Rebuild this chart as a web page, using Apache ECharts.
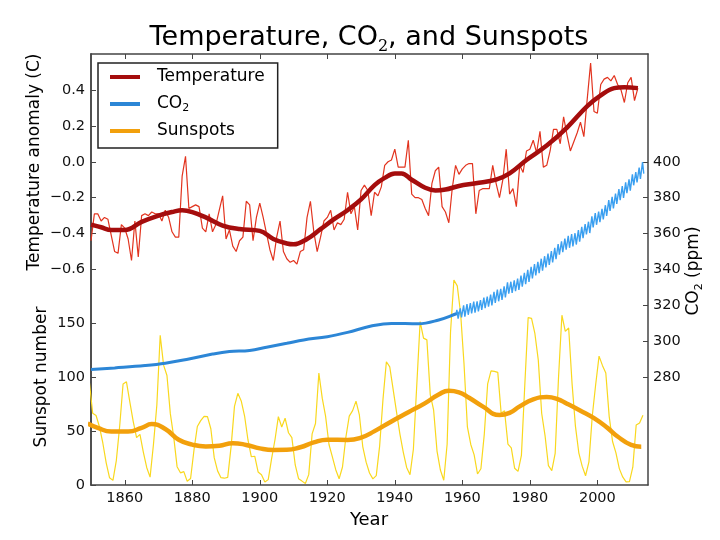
<!DOCTYPE html>
<html><head><meta charset="utf-8">
<script src="https://cdn.jsdelivr.net/npm/echarts@6/dist/echarts.min.js"></script>
<style>html,body{margin:0;padding:0;background:#fff}#c{width:720px;height:540px}</style>
</head><body><div id="c"></div>
<script>
// ---------------- data ----------------
const tempStartYear = 1850;
const tempAnnual = [
 -0.44,-0.29,-0.29,-0.33,-0.31,-0.32,-0.41,-0.50,-0.51,-0.35,
 -0.37,-0.43,-0.55,-0.33,-0.53,-0.30,-0.29,-0.30,-0.28,-0.29,
 -0.29,-0.33,-0.27,-0.31,-0.39,-0.42,-0.42,-0.08,0.03,-0.26,
 -0.25,-0.24,-0.25,-0.37,-0.39,-0.29,-0.39,-0.35,-0.27,-0.19,
 -0.43,-0.38,-0.47,-0.50,-0.44,-0.42,-0.22,-0.24,-0.44,-0.31,
 -0.23,-0.31,-0.40,-0.49,-0.55,-0.42,-0.33,-0.50,-0.54,-0.56,
 -0.55,-0.57,-0.50,-0.49,-0.31,-0.22,-0.39,-0.50,-0.42,-0.33,
 -0.31,-0.27,-0.38,-0.34,-0.35,-0.32,-0.17,-0.29,-0.25,-0.38,
 -0.16,-0.13,-0.16,-0.30,-0.17,-0.19,-0.14,-0.02,0.00,0.01,
 0.07,-0.03,-0.03,-0.03,0.12,-0.18,-0.20,-0.20,-0.21,-0.26,
 -0.30,-0.12,-0.05,-0.03,-0.25,-0.28,-0.34,-0.15,-0.02,-0.07,
 -0.04,-0.02,-0.01,-0.01,-0.29,-0.16,-0.15,-0.15,-0.15,-0.02,
 -0.12,-0.20,-0.10,0.07,-0.18,-0.15,-0.25,-0.02,-0.06,0.06,
 0.07,0.12,0.05,0.17,-0.03,-0.02,0.06,0.18,0.18,0.10,
 0.25,0.15,0.06,0.11,0.16,0.22,0.14,0.35,0.55,0.28,
 0.27,0.43,0.46,0.47,0.45,0.48,0.43,0.40,0.33,0.44,
 0.47,0.34,0.41
];
const tempSmooth = [
 [1850,-0.35],[1853,-0.365],[1856,-0.38],[1860,-0.38],[1865,-0.335],[1870,-0.30],
 [1874,-0.28],[1877,-0.27],[1880,-0.28],[1884,-0.31],[1889,-0.355],[1894,-0.375],
 [1900,-0.385],[1904,-0.43],[1908,-0.455],[1910,-0.46],[1914,-0.43],[1918,-0.375],
 [1922,-0.32],[1926,-0.27],[1930,-0.21],[1934,-0.13],[1937,-0.09],[1940,-0.065],
 [1942,-0.065],[1945,-0.10],[1949,-0.145],[1952,-0.16],[1955,-0.155],[1959,-0.135],
 [1964,-0.12],[1970,-0.10],[1974,-0.065],[1979,0.01],[1985,0.09],[1991,0.19],
 [1997,0.31],[2001,0.37],[2005,0.41],[2008,0.415],[2012,0.41]
];
const co2Smooth = [
 [1850,284.3],[1857,285.2],[1866,286.5],[1872,287.8],[1879,290.2],[1886,292.9],
 [1891,294.3],[1897,294.9],[1902,296.7],[1908,298.9],[1913,300.8],[1920,302.6],
 [1926,305.0],[1933,308.5],[1939,310.0],[1947,309.8],[1953,311.9],[1958,315.2],[1959,315.9]
];
const co2Years = [];
for (let y = 1958; y <= 2013; y++) co2Years.push(y);
const co2SpringMax = [
 317.5,318.3,320.0,320.7,321.3,322.1,322.3,322.9,324.3,324.9,
 326.0,327.6,328.8,329.2,330.6,332.8,333.2,334.0,334.9,336.6,
 338.2,339.8,341.5,343.0,344.3,346.0,347.4,348.9,350.3,352.0,
 354.2,355.7,357.2,358.8,359.7,360.2,362.0,363.8,365.3,366.6,
 369.6,371.4,372.2,373.8,375.8,378.6,380.5,382.3,384.8,386.5,
 388.5,390.2,393.0,394.3,396.8,399.8
];
const co2AutumnMin = [
 312.6,313.3,313.8,314.8,315.6,316.0,316.7,317.5,318.5,319.3,
 320.0,321.4,322.3,323.1,324.5,326.5,327.0,327.9,328.6,330.5,
 331.8,333.1,335.0,336.7,338.0,339.4,341.2,342.6,343.9,345.7,
 348.3,349.7,351.1,352.1,352.8,353.9,355.5,357.5,359.5,360.3,
 363.5,364.9,366.4,367.9,369.8,372.6,374.0,376.5,378.6,379.9,
 382.5,383.9,386.9,388.5,390.4,393.4
];
const sunspotStartYear = 1849;
const sunspotAnnual = [
 95.8,
 66.5,64.5,54.1,39.0,20.6,6.7,4.3,22.7,54.8,93.8,
 95.8,77.2,59.1,44.0,47.0,30.5,16.3,7.3,37.6,74.0,
 139.0,111.2,101.6,66.2,44.7,17.0,11.3,12.4,3.4,6.0,
 32.3,54.3,59.7,63.7,63.5,52.2,25.4,13.1,6.8,6.3,
 7.1,35.6,73.0,85.1,78.0,64.0,41.8,26.2,26.7,12.1,
 9.5,2.7,5.0,24.4,42.0,63.5,53.8,62.0,48.5,43.9,
 18.6,5.7,3.6,1.4,9.6,47.4,57.1,103.9,80.6,63.6,
 37.6,26.1,14.2,5.8,16.7,44.3,63.9,69.0,77.8,65.0,
 35.7,21.2,11.1,5.7,8.7,36.1,79.7,114.4,109.6,88.8,
 67.8,47.5,30.6,16.3,9.6,33.2,92.6,151.6,136.3,134.7,
 83.9,69.4,31.5,13.9,4.4,38.0,141.7,190.2,184.8,159.0,
 112.3,53.9,37.6,27.9,10.2,15.1,47.0,93.8,105.9,105.5,
 104.5,66.6,68.9,38.0,34.5,15.5,12.6,27.5,92.5,155.4,
 154.6,140.4,115.9,66.6,45.9,17.9,13.4,29.4,100.2,157.6,
 142.6,145.7,94.3,54.6,29.9,17.5,8.6,21.5,64.3,93.3,
 119.6,111.0,104.0,63.7,40.4,29.8,15.2,7.5,2.9,3.1,
 16.5,55.7,57.6,64.7
];
const sunspotSmooth = [
 [1849,57],[1852,53],[1856,49.7],[1861,49.7],[1865,53],[1868,56.5],[1872,52],
 [1876,42],[1880,37.5],[1884,35.8],[1888,36.5],[1892,38.8],[1896,37.2],[1900,34],
 [1904,32.5],[1908,32.6],[1912,35],[1916,39.5],[1920,42],[1926,41.8],[1930,44],
 [1934,50],[1939,59],[1944,67.5],[1949,76],[1953,84],[1956,87.5],[1959,86],
 [1962,81],[1966,73],[1971,65],[1974,67],[1977,73],[1981,79.5],[1985,81.6],
 [1988,80],[1991,75.5],[1995,69],[1999,62],[2003,53],[2006,45],[2010,37.2],[2013,35.5]
];
const xTicks = [1860,1880,1900,1920,1940,1960,1980,2000];
const tempTicks = [-0.6,-0.4,-0.2,0.0,0.2,0.4];
const sunspotTicks = [0,50,100,150];
const co2Ticks = [280,300,320,340,360,380,400];

// ---------------- build series data ----------------
const tempData = tempAnnual.map((v,i)=>[tempStartYear+i, v]);
const sunData = sunspotAnnual.map((v,i)=>[sunspotStartYear+i+0.5, v]); // annual mean at mid-year
const co2Seasonal = [[1958.2, 315.7]];
co2Years.forEach((y,i)=>{ co2Seasonal.push([y+0.38, co2SpringMax[i]]); co2Seasonal.push([y+0.75, co2AutumnMin[i]]); });

const FF = 'DejaVu Sans';
const AX = '#444';
const tickLbl = {fontSize:14.5, fontFamily:FF, color:'#111'};
function fmtT(v){ return v.toFixed(1).replace('-', '\u2212'); }
function fmtI(v){ return String(Math.round(v)); }

const chart = echarts.init(document.getElementById('c'), null, {renderer:'canvas'});
chart.setOption({
  animation:false,
  backgroundColor:'#fff',
  grid:{left:91, right:72, top:54, bottom:55, containLabel:false},
  xAxis:[
    {type:'value', min:1850, max:2015, position:'bottom',
     axisLine:{onZero:false, lineStyle:{color:AX, width:1.5}},
     axisTick:{inside:true, length:5, customValues:xTicks, lineStyle:{color:AX}},
     axisLabel:Object.assign({customValues:xTicks, margin:6, formatter:fmtI}, tickLbl),
     splitLine:{show:false}},
    {type:'value', min:1850, max:2015, position:'top',
     axisLine:{onZero:false, lineStyle:{color:AX, width:1.5}},
     axisTick:{inside:true, length:5, customValues:xTicks, lineStyle:{color:AX}},
     axisLabel:{show:false}, splitLine:{show:false}}
  ],
  yAxis:[
    {type:'value', min:-1.8, max:0.6, position:'left',
     axisLine:{show:true, onZero:false, lineStyle:{color:AX, width:1.5}},
     axisTick:{show:true, inside:true, length:5, customValues:tempTicks, lineStyle:{color:AX}},
     axisLabel:Object.assign({customValues:tempTicks, margin:6, formatter:fmtT}, tickLbl),
     splitLine:{show:false}},
    {type:'value', min:0, max:400, position:'left',
     axisLine:{show:true, onZero:false, lineStyle:{color:AX, width:1.5}},
     axisTick:{show:true, inside:true, length:5, customValues:sunspotTicks, lineStyle:{color:AX}},
     axisLabel:Object.assign({customValues:sunspotTicks, margin:6, formatter:fmtI}, tickLbl),
     splitLine:{show:false}},
    {type:'value', min:220, max:460, position:'right',
     axisLine:{show:true, onZero:false, lineStyle:{color:AX, width:1.5}},
     axisTick:{show:true, inside:true, length:5, customValues:co2Ticks, lineStyle:{color:AX}},
     axisLabel:Object.assign({customValues:co2Ticks, margin:5, formatter:fmtI}, tickLbl),
     splitLine:{show:false}}
  ],
  legend:{
    data:['Temperature','CO2','Sunspots'],
    orient:'vertical', left:98, top:63,
    icon:'rect', itemWidth:30, itemHeight:4, itemGap:7,
    padding:[4,13,7,12],
    borderColor:'#222', borderWidth:1.5, backgroundColor:'#fff',
    textStyle:{fontSize:17, fontFamily:FF, color:'#000', lineHeight:20, padding:[0,0,0,12],
      rich:{n:{fontSize:17, fontFamily:FF, color:'#000', lineHeight:20},
            s:{fontSize:11, fontFamily:FF, color:'#000', lineHeight:20, verticalAlign:'bottom'}}},
    formatter:function(name){ return name==='CO2' ? '{n|CO}{s|2}' : name; }
  },
  series:[
    {type:'line', name:'Sunspots (annual)', xAxisIndex:0, yAxisIndex:1, data:sunData, showSymbol:false, silent:true,
     color:'#f9d81e', lineStyle:{color:'#f9d81e', width:1.2}, z:1},
    {type:'line', name:'Sunspots', xAxisIndex:0, yAxisIndex:1, data:sunspotSmooth, showSymbol:false, smooth:0.5, silent:true,
     color:'#f2a00c', itemStyle:{color:'#f2a00c'}, lineStyle:{color:'#f2a00c', width:4.5}, z:2},
    {type:'line', name:'CO2', xAxisIndex:0, yAxisIndex:2, data:co2Smooth, showSymbol:false, smooth:0.4, silent:true,
     color:'#2c86d6', itemStyle:{color:'#2c86d6'}, lineStyle:{color:'#2c86d6', width:3}, z:3},
    {type:'line', name:'CO2 (monthly)', xAxisIndex:0, yAxisIndex:2, data:co2Seasonal, showSymbol:false, silent:true,
     color:'#3a9ff0', lineStyle:{color:'#3a9ff0', width:1.4}, z:3},
    {type:'line', name:'Temperature (annual)', xAxisIndex:0, yAxisIndex:0, data:tempData, showSymbol:false, silent:true,
     color:'#e2341f', lineStyle:{color:'#e2341f', width:1.2}, z:4},
    {type:'line', name:'Temperature', xAxisIndex:0, yAxisIndex:0, data:tempSmooth, showSymbol:false, smooth:0.4, silent:true,
     color:'#a50d0d', itemStyle:{color:'#a50d0d'}, lineStyle:{color:'#a50d0d', width:4.5}, z:5}
  ],
  graphic:[
    {type:'text', x:369, y:38, silent:true, style:{
      text:'{a|Temperature, CO}{s|2}{a|, and Sunspots}', align:'center', verticalAlign:'middle',
      rich:{a:{fontSize:27, fontFamily:FF, fill:'#000', lineHeight:34},
            s:{fontSize:16, fontFamily:'DejaVu Serif', fill:'#000', lineHeight:34, verticalAlign:'bottom'}}}},
    {type:'text', x:35, y:162, rotation:Math.PI/2, silent:true, style:{
      text:'Temperature anomaly (C)', fontSize:17, fontFamily:FF, fill:'#000', align:'center', verticalAlign:'middle'}},
    {type:'text', x:42, y:377, rotation:Math.PI/2, silent:true, style:{
      text:'Sunspot number', fontSize:17, fontFamily:FF, fill:'#000', align:'center', verticalAlign:'middle'}},
    {type:'text', x:694, y:271, rotation:Math.PI/2, silent:true, style:{
      text:'{a|CO}{s|2}{a| (ppm)}', align:'center', verticalAlign:'middle',
      rich:{a:{fontSize:17, fontFamily:FF, fill:'#000', lineHeight:22},
            s:{fontSize:11, fontFamily:FF, fill:'#000', lineHeight:22, verticalAlign:'bottom'}}}},
    {type:'text', x:369, y:520, silent:true, style:{
      text:'Year', fontSize:18, fontFamily:FF, fill:'#000', align:'center', verticalAlign:'middle'}}
  ]
});
</script>
</body></html>
